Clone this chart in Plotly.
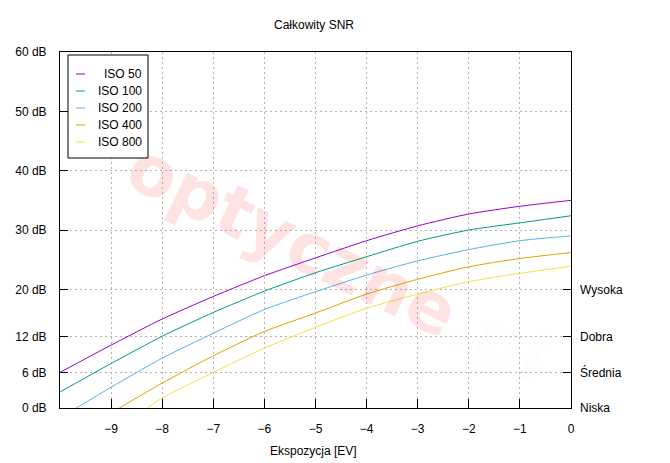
import plotly.graph_objects as go

# ---- data ----
ev_full = [-10, -9, -8, -7, -6, -5, -4, -3, -2, -1, 0]
iso50 = [6.0, 10.6, 15.0, 18.8, 22.3, 25.3, 28.2, 30.7, 32.7, 34.0, 35.0]
iso100 = [2.7, 7.5, 12.1, 16.1, 19.7, 22.8, 25.5, 28.1, 30.0, 31.2, 32.4]
ev200 = [-9.68, -9, -8, -7, -6, -5, -4, -3, -2, -1, 0]
iso200 = [0.0, 3.5, 8.4, 12.6, 16.6, 19.6, 22.4, 24.8, 26.7, 28.2, 29.0]
ev400 = [-8.84, -8, -7, -6, -5, -4, -3, -2, -1, 0]
iso400 = [0.0, 4.2, 8.8, 12.9, 16.0, 19.2, 21.7, 23.8, 25.2, 26.2]
ev800 = [-8.29, -8, -7, -6, -5, -4, -3, -2, -1, 0]
iso800 = [0.0, 1.7, 6.0, 10.1, 13.6, 16.8, 19.2, 21.3, 22.7, 23.9]

series_names = ["ISO 50", "ISO 100", "ISO 200", "ISO 400", "ISO 800"]
series_x = [ev_full, ev_full, ev200, ev400, ev800]
series_y = [iso50, iso100, iso200, iso400, iso800]
colors = ["#9400d3", "#009e73", "#56b4e9", "#e69f00", "#f0e442"]

x_ticks = [-9, -8, -7, -6, -5, -4, -3, -2, -1, 0]
y_ticks = [0, 6, 12, 20, 30, 40, 50, 60]
y_tick_text = ["0 dB", "6 dB", "12 dB", "20 dB", "30 dB", "40 dB", "50 dB", "60 dB"]
quality_vals = [0, 6, 12, 20]
quality_text = ["Niska", "Średnia", "Dobra", "Wysoka"]

title = "Całkowity SNR"
x_title = "Ekspozycja [EV]"

# ---- layout geometry ----
W, H = 670, 463
L, R, T, B = 60, 99, 52, 55
PW, PH = W - L - R, H - T - B
FONT = "Liberation Sans, Arial, sans-serif"


def px(xp):
    return (xp - L) / PW


def py(yp):
    return (H - B - yp) / PH


fig = go.Figure()
for name, xs, ys, c in zip(series_names, series_x, series_y, colors):
    fig.add_trace(go.Scatter(x=xs, y=ys, mode="lines", name=name,
                             line=dict(color=c, width=1, shape="spline", smoothing=0.6),
                             showlegend=False, cliponaxis=True))
# helper trace so the right axis is drawn
fig.add_trace(go.Scatter(x=[None], y=[None], yaxis="y2", showlegend=False, hoverinfo="skip"))

shapes = []
annotations = []

# watermark
annotations.append(dict(
    text="optyczne<span style='color:rgba(0,0,0,0.06)'>.pl</span>",
    x=px(338), y=py(262), xref="paper", yref="paper", showarrow=False,
    textangle=26, font=dict(family="DejaVu Sans", size=70, weight="bold",
                            color="rgba(255,0,0,0.11)"),
    xanchor="center", yanchor="middle"))

# manual legend
shapes.append(dict(type="rect", xref="paper", yref="paper",
                   x0=px(68), x1=px(148), y0=py(158), y1=py(55),
                   line=dict(color="black", width=1), fillcolor="white", layer="above"))
for i, (name, c) in enumerate(zip(series_names, colors)):
    yy = 74 + 17 * i
    shapes.append(dict(type="line", xref="paper", yref="paper",
                       x0=px(76), x1=px(85), y0=py(yy), y1=py(yy),
                       line=dict(color=c, width=1), layer="above"))
    annotations.append(dict(text=name, x=px(144), y=py(yy), xref="paper", yref="paper",
                            showarrow=False, xanchor="right", yanchor="middle",
                            font=dict(family=FONT, size=12, color="black")))

# title and axis title
annotations.append(dict(text=title, x=px(314), y=py(25), xref="paper", yref="paper",
                        showarrow=False, xanchor="center", yanchor="middle",
                        font=dict(family=FONT, size=12, color="black")))
annotations.append(dict(text=x_title, x=px(313), y=py(451), xref="paper", yref="paper",
                        showarrow=False, xanchor="center", yanchor="middle",
                        font=dict(family=FONT, size=12, color="black")))

fig.update_layout(
    width=W, height=H, autosize=False,
    margin=dict(l=L, r=R, t=T, b=B, pad=0),
    paper_bgcolor="white", plot_bgcolor="white",
    font=dict(family=FONT, size=12, color="black"),
    showlegend=False,
    shapes=shapes, annotations=annotations,
    xaxis=dict(range=[-10, 0], tickvals=x_ticks, ticks="inside", ticklen=9, tickcolor="black",
               showline=True, linecolor="black", linewidth=1, mirror=True,
               showgrid=True, gridcolor="#b4b4b4", griddash="2px,3px", gridwidth=1,
               zeroline=False, ticklabelstandoff=10,
               tickfont=dict(family=FONT, size=12, color="black")),
    yaxis=dict(range=[0, 60], tickvals=y_ticks, ticktext=y_tick_text, ticks="inside", ticklen=8,
               tickcolor="black", showline=True, linecolor="black", linewidth=1, mirror=True,
               showgrid=True, gridcolor="#b4b4b4", griddash="2px,3px", gridwidth=1,
               zeroline=False, ticklabelstandoff=10,
               tickfont=dict(family=FONT, size=12, color="black")),
    yaxis2=dict(range=[0, 60], overlaying="y", side="right", anchor="x",
                tickvals=quality_vals, ticktext=quality_text, ticks="inside", ticklen=8,
                tickcolor="black", showline=False, showgrid=False, zeroline=False,
                ticklabelstandoff=8,
                tickfont=dict(family=FONT, size=12, color="black")),
)

fig.write_html("out.html")
